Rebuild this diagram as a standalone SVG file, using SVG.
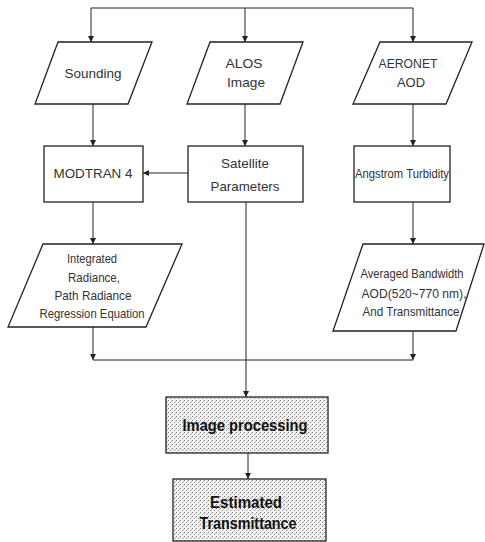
<svg xmlns="http://www.w3.org/2000/svg" width="485" height="542" viewBox="0 0 485 542">
<defs>
<marker id="arr" viewBox="0 0 10 10" refX="10" refY="5" markerWidth="6" markerHeight="6" orient="auto" markerUnits="userSpaceOnUse">
<path d="M0,0 L10,5 L0,10 z" fill="#222"/>
</marker>
<pattern id="dots" width="4" height="4" patternUnits="userSpaceOnUse">
<rect width="4" height="4" fill="#f2f2f2"/>
<rect x="0" y="0" width="1" height="1" fill="#777"/>
<rect x="2" y="2" width="1" height="1" fill="#999"/>
<rect x="3" y="1" width="1" height="1" fill="#bbb"/>
</pattern>
</defs>
<style>
.shape{fill:#fff;stroke:#222;stroke-width:1.3}
.shaded{fill:url(#dots);stroke:#222;stroke-width:1.3}
.lbl{font-family:"Liberation Sans",Arial,sans-serif;font-size:13px;fill:#333;text-anchor:middle;dominant-baseline:central}
.big{font-family:"Liberation Sans",Arial,sans-serif;font-size:17px;font-weight:bold;fill:#111;text-anchor:middle;dominant-baseline:central}
.line{fill:none;stroke:#222;stroke-width:1}
</style>
<rect width="485" height="542" fill="#fff"/>
<g id="connectors">
<path class="line" d="M91,8 H413"/>
<path class="line" d="M91,8 V42" marker-end="url(#arr)"/>
<path class="line" d="M245,8 V42" marker-end="url(#arr)"/>
<path class="line" d="M413,8 V42" marker-end="url(#arr)"/>
<path class="line" d="M93,104 V146" marker-end="url(#arr)"/>
<path class="line" d="M245,104 V146" marker-end="url(#arr)"/>
<path class="line" d="M413,104 V146" marker-end="url(#arr)"/>
<path class="line" d="M188,173 H143" marker-end="url(#arr)"/>
<path class="line" d="M93,202 V244" marker-end="url(#arr)"/>
<path class="line" d="M413,202 V244" marker-end="url(#arr)"/>
<path class="line" d="M93,327 V360" marker-end="url(#arr)"/>
<path class="line" d="M413,331 V360" marker-end="url(#arr)"/>
<path class="line" d="M93,360 H413"/>
<path class="line" d="M246,202 V397" marker-end="url(#arr)"/>
<path class="line" d="M248,453 V479" marker-end="url(#arr)"/>
</g>
<g id="sounding">
<polygon class="shape" points="58,42 152,42 128,104 35,104"/>
<text class="lbl" x="93" y="73" textLength="57" lengthAdjust="spacingAndGlyphs">Sounding</text>
</g>
<g id="alos">
<polygon class="shape" points="210,42 303,42 280,104 187,104"/>
<text class="lbl" x="244" y="63" textLength="37" lengthAdjust="spacingAndGlyphs">ALOS</text>
<text class="lbl" x="246" y="82" textLength="38" lengthAdjust="spacingAndGlyphs">Image</text>
</g>
<g id="aeronet">
<polygon class="shape" points="380,42 472,42 446,104 353,104"/>
<text class="lbl" x="408" y="63" textLength="59" lengthAdjust="spacingAndGlyphs">AERONET</text>
<text class="lbl" x="411" y="82" textLength="28" lengthAdjust="spacingAndGlyphs">AOD</text>
</g>
<g id="modtran">
<rect class="shape" x="44" y="146" width="99" height="56"/>
<text class="lbl" x="93" y="173" textLength="79" lengthAdjust="spacingAndGlyphs">MODTRAN 4</text>
</g>
<g id="satellite">
<rect class="shape" x="188" y="146" width="115" height="56"/>
<text class="lbl" x="245" y="163" textLength="48" lengthAdjust="spacingAndGlyphs">Satellite</text>
<text class="lbl" x="245" y="186" textLength="69" lengthAdjust="spacingAndGlyphs">Parameters</text>
</g>
<g id="angstrom">
<rect class="shape" x="354" y="146" width="96" height="56"/>
<text class="lbl" x="402" y="173" textLength="94" lengthAdjust="spacingAndGlyphs">Angstrom Turbidity</text>
</g>
<g id="integrated">
<polygon class="shape" points="43,244 182,244 146,327 8,327"/>
<text class="lbl" x="92" y="258" textLength="50" lengthAdjust="spacingAndGlyphs">Integrated</text>
<text class="lbl" x="94" y="277" textLength="52" lengthAdjust="spacingAndGlyphs">Radiance,</text>
<text class="lbl" x="93" y="295" textLength="77" lengthAdjust="spacingAndGlyphs">Path Radiance</text>
<text class="lbl" x="92" y="313" textLength="105" lengthAdjust="spacingAndGlyphs">Regression Equation</text>
</g>
<g id="averaged">
<polygon class="shape" points="363,244 484,244 456,331 333,331"/>
<text class="lbl" x="412" y="273" textLength="103" lengthAdjust="spacingAndGlyphs">Averaged Bandwidth</text>
<text class="lbl" x="414" y="293" textLength="105" lengthAdjust="spacingAndGlyphs">AOD(520~770 nm),</text>
<text class="lbl" x="411" y="311" textLength="97" lengthAdjust="spacingAndGlyphs">And Transmittance</text>
</g>
<g id="imageproc">
<rect class="shaded" x="166" y="397" width="162" height="56"/>
<text class="big" x="245" y="425" textLength="125" lengthAdjust="spacingAndGlyphs">Image processing</text>
</g>
<g id="estimated">
<rect class="shaded" x="173" y="479" width="153" height="62"/>
<text class="big" x="246" y="502" textLength="72" lengthAdjust="spacingAndGlyphs">Estimated</text>
<text class="big" x="248" y="523" textLength="97" lengthAdjust="spacingAndGlyphs">Transmittance</text>
</g>
</svg>
